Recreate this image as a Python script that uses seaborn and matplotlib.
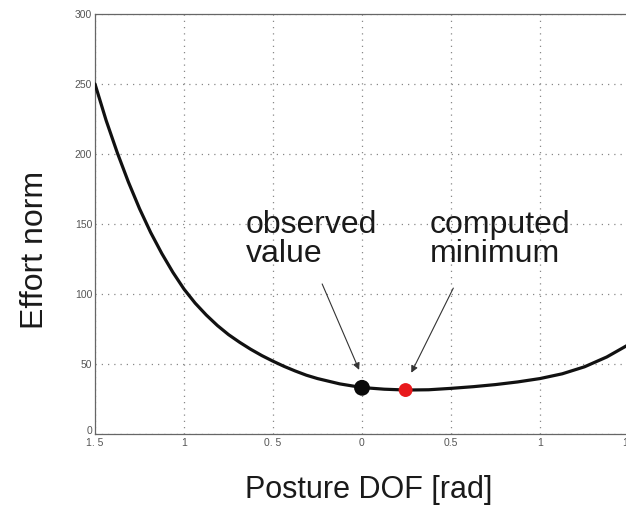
import matplotlib
matplotlib.use("Agg")
import matplotlib.pyplot as plt
import seaborn as sns
import pandas as pd

# data
posture = [-1.5, -1.4375, -1.375, -1.3125, -1.25, -1.1875, -1.125, -1.0625,
           -1.0, -0.9375, -0.875, -0.8125, -0.75, -0.6875, -0.625, -0.5625,
           -0.5, -0.4375, -0.375, -0.3125, -0.25, -0.125, 0.0, 0.125, 0.25,
           0.375, 0.5, 0.625, 0.75, 0.875, 1.0, 1.125, 1.25, 1.375, 1.5]
effort = [250, 224, 201, 180, 161, 144, 129, 115.5,
          103.5, 93.5, 85, 77.5, 71, 65.5, 60.5, 56,
          52, 48.3, 45, 42, 39.6, 35.8, 33.2, 32, 31.4,
          31.6, 32.6, 33.8, 35.3, 37.2, 39.6, 43, 48, 55, 64]
observed_x, observed_y = [0.0], [33]
minimum_x, minimum_y = [0.245], [31.4]
xtick_values = [-1.5, -1.0, -0.5, 0.0, 0.5, 1.0, 1.5]
xtick_labels = ["1. 5", "1", "0. 5", "0", "0.5", "1", "1.5"]
ytick_values = [0, 50, 100, 150, 200, 250, 300]

sns.set_theme(style="white")
plt.rcParams['font.family'] = ['Liberation Sans', 'DejaVu Sans']

fig = plt.figure(figsize=(6.26, 5.22), dpi=100)
ax = fig.add_axes([95/626, 88/522, 534/626, 420/522])

df = pd.DataFrame({"x": posture, "y": effort})
sns.lineplot(data=df, x="x", y="y", ax=ax, color="#111111", linewidth=2.3, zorder=3)
sns.scatterplot(x=observed_x, y=observed_y, ax=ax, color="#0a0a0a", s=130,
                edgecolor="none", zorder=4)
sns.scatterplot(x=minimum_x, y=minimum_y, ax=ax, color="#e8191c", s=100,
                edgecolor="none", zorder=4)

ax.set_xlim(-1.5, 1.5)
ax.set_ylim(0, 300)
ax.set_xticks(xtick_values)
ax.set_xticklabels(xtick_labels)
ax.set_yticks(ytick_values)
ax.tick_params(direction="in", length=4, width=0.8, colors="#555555", labelsize=7.5,
               pad=3)
ax.tick_params(axis="y", pad=2)
ax.get_yticklabels()[0].set_va("baseline")
for s in ax.spines.values():
    s.set_color("#666666")
    s.set_linewidth(0.9)
ax.grid(True, linestyle=(0, (1, 4)), color="#888888", linewidth=0.9)

ax.set_xlabel("Posture DOF [rad]", fontsize=22, color="#1a1a1a")
ax.set_ylabel("Effort norm", fontsize=23, color="#1a1a1a")
ax.xaxis.label.set_va("center")
ax.yaxis.label.set_va("center")
ax.xaxis.set_label_coords((369 - 95) / 534, -(490 - 434) / 420)
ax.yaxis.set_label_coords(-(95 - 35) / 534, (434 - 250) / 420)

ax.text(-0.655, 117.5, "observed\nvalue", fontsize=23, color="#1a1a1a",
        ha="left", va="bottom", linespacing=0.97, zorder=5)
ax.text(0.38, 117.5, "computed\nminimum", fontsize=23, color="#1a1a1a",
        ha="left", va="bottom", linespacing=0.97, zorder=5)
ax.annotate("", xy=(-0.01, 44), xytext=(-0.23, 109),
            arrowprops=dict(arrowstyle="-|>", color="#333333", lw=0.8,
                            mutation_scale=10))
ax.annotate("", xy=(0.27, 42), xytext=(0.52, 106),
            arrowprops=dict(arrowstyle="-|>", color="#333333", lw=0.8,
                            mutation_scale=10))

fig.savefig("out.png", dpi=100)
